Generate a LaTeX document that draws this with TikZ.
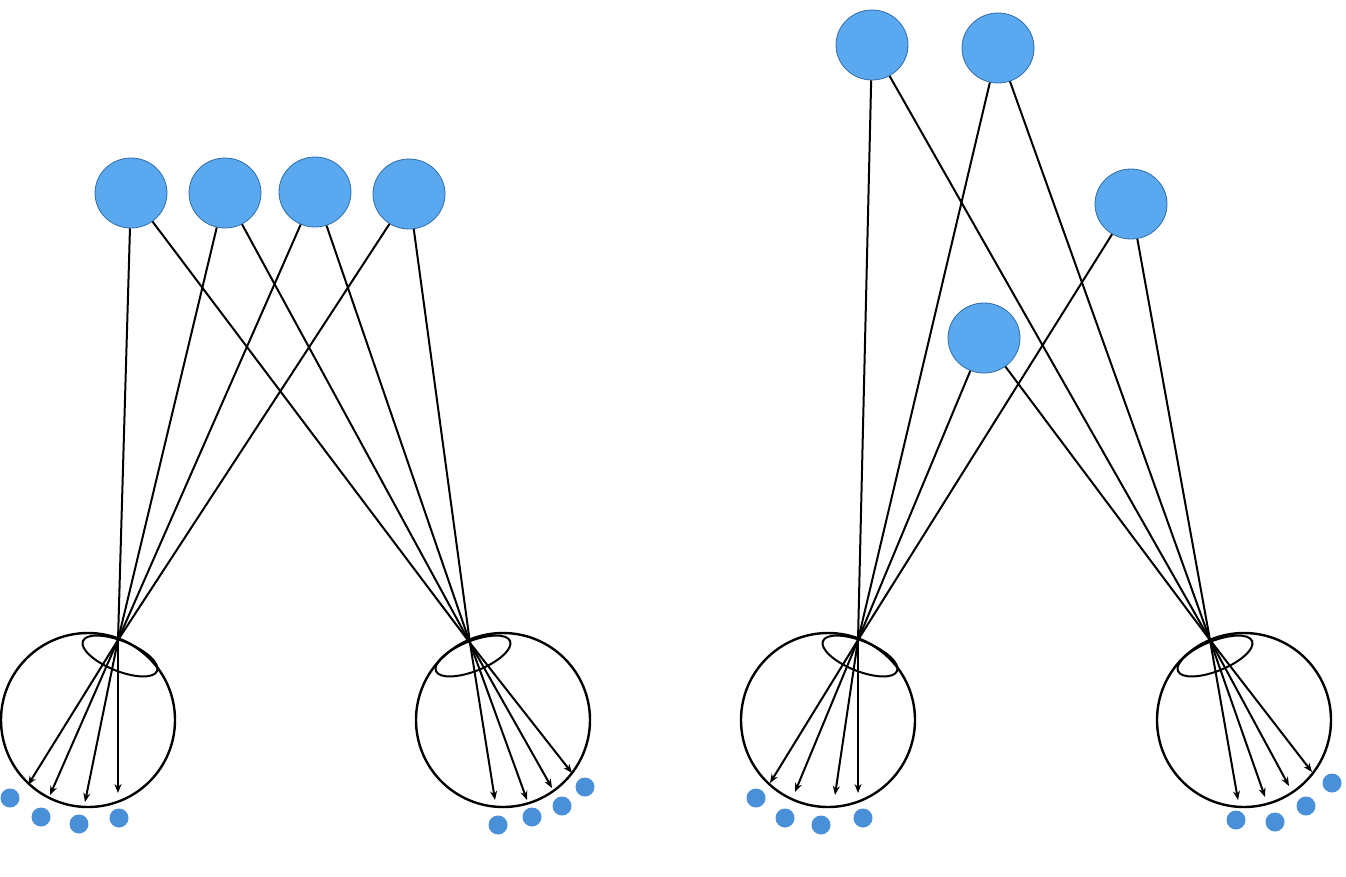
\documentclass[tikz,border=0pt]{standalone}
\usetikzlibrary{arrows.meta}
\definecolor{src}{HTML}{5AA9F0}
\definecolor{srcb}{HTML}{2F6DA8}
\definecolor{dotc}{HTML}{4A90D9}
\begin{document}
\begin{tikzpicture}[x=1pt,y=-1pt,
  srcnode/.style={ellipse,minimum width=72pt,minimum height=70pt,fill=src,draw=srcb,line width=0.8pt,inner sep=0pt},
  eye/.style={circle,minimum size=174pt,draw=black,line width=2.4pt,inner sep=0pt},
  ray/.style={line width=2pt},
  rayarr/.style={line width=2pt,-{Stealth[length=9pt,width=7pt]}},
  lens/.style={draw=black,line width=2pt},
  dotn/.style={circle,fill=dotc,minimum size=19pt,inner sep=0pt}]
\usetikzlibrary{shapes.geometric}
\useasboundingbox (0,0) rectangle (1346,876);
% ---------- left panel ----------
\node[srcnode] (s1) at (131,193) {};
\node[srcnode] (s2) at (225,193) {};
\node[srcnode] (s3) at (315,192) {};
\node[srcnode] (s4) at (409,194) {};
\node[eye] (e1) at (88,720) {};
\node[eye] (e2) at (503,720) {};
\draw[lens,rotate around={-22:(120,656)}] (120,656) ellipse (40pt and 15pt);
\draw[lens,rotate around={22:(473,656)}] (473,656) ellipse (40pt and 15pt);
\coordinate (c1) at (118,640);
\coordinate (c2) at (470,643);
\foreach \s/\ang/\e in {s1/-92/{(118,793)},s2/-105/{(85,802)},s3/-113/{(50,795)},s4/-123/{(28,785)}}{
  \draw[ray] (\s) -- (c1); \draw[rayarr] (c1) -- \e; }
\foreach \s/\e in {s1/{(572,773)},s2/{(552,788)},s3/{(527,800)},s4/{(495,800)}}{
  \draw[ray] (\s) -- (c2); \draw[rayarr] (c2) -- \e; }
\node[dotn] (d1) at (10,798) {};
\node[dotn] (d2) at (41,817) {};
\node[dotn] (d3) at (79,824) {};
\node[dotn] (d4) at (119,818) {};
\node[dotn] (d5) at (498,825) {};
\node[dotn] (d6) at (532,817) {};
\node[dotn] (d7) at (562,806) {};
\node[dotn] (d8) at (585,787) {};
% ---------- right panel ----------
\node[srcnode] (ta) at (872,45) {};
\node[srcnode] (tb) at (998,48) {};
\node[srcnode] (tc) at (1131,204) {};
\node[srcnode] (td) at (984,338) {};
\node[eye] (e3) at (828,720) {};
\node[eye] (e4) at (1244,720) {};
\draw[lens,rotate around={-22:(860,656)}] (860,656) ellipse (40pt and 15pt);
\draw[lens,rotate around={22:(1215,656)}] (1215,656) ellipse (40pt and 15pt);
\coordinate (c3) at (858,640);
\coordinate (c4) at (1210,640);
\foreach \s/\e in {ta/{(858,793)},tb/{(835,795)},td/{(795,792)},tc/{(770,783)}}{
  \draw[ray] (\s) -- (c3); \draw[rayarr] (c3) -- \e; }
\foreach \s/\e in {td/{(1312,772)},ta/{(1289,786)},tb/{(1265,797)},tc/{(1238,800)}}{
  \draw[ray] (\s) -- (c4); \draw[rayarr] (c4) -- \e; }
\node[dotn] (d9) at (756,798) {};
\node[dotn] (d10) at (785,818) {};
\node[dotn] (d11) at (821,825) {};
\node[dotn] (d12) at (863,818) {};
\node[dotn] (d13) at (1236,820) {};
\node[dotn] (d14) at (1275,822) {};
\node[dotn] (d15) at (1306,806) {};
\node[dotn] (d16) at (1332,783) {};
\end{tikzpicture}
\end{document}
